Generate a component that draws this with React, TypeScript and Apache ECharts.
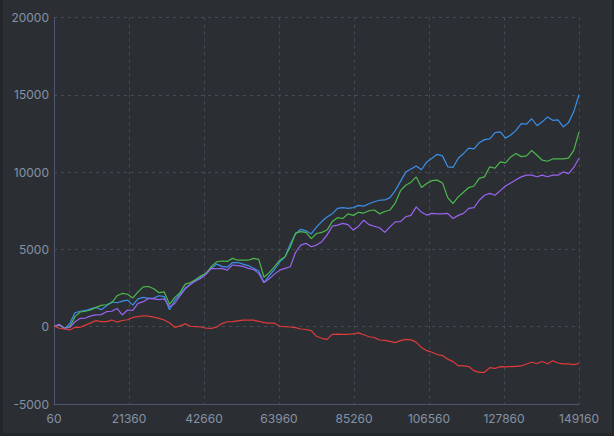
import React, { useEffect, useRef } from "react";
import * as echarts from "echarts";

// sample positions: first trade index and step between samples
const X_START = 60;
const X_STEP = 1491;
const xTickLabels = [60, 21360, 42660, 63960, 85260, 106560, 127860, 149160];
const yTicks = [-5000, 0, 5000, 10000, 15000, 20000];

const blue = [
  0, 150, -150, 200, 900, 1000, 1050, 1150, 1250, 1100,
  1350, 1600, 1550, 1650, 1720, 1400, 1800, 1900, 1830, 1850,
  2000, 1950, 1100, 1700, 2100, 2500, 2750, 3000, 3200, 3500,
  3800, 4050, 3900, 3850, 4150, 4150, 4050, 3950, 3780, 3600,
  2850, 3300, 3700, 4200, 4500, 5350, 6000, 6300, 6200, 6000,
  6450, 6800, 7100, 7300, 7650, 7700, 7650, 7700, 7850, 7800,
  7950, 8080, 8180, 8200, 8350, 8800, 9400, 10000, 10200, 10400,
  10150, 10660, 10900, 11150, 11050, 10340, 10300, 10900, 11200, 11550,
  11500, 11900, 12100, 12150, 12550, 12600, 12200, 12400, 12700, 13140,
  13100, 13450, 13000, 13250, 13570, 13350, 13380, 12920, 13200, 13900,
  15000,
];

const green = [
  0, 100, -100, 0, 650, 950, 1000, 1080, 1250, 1380,
  1420, 1550, 2000, 2150, 2100, 1850, 2250, 2580, 2600, 2450,
  2200, 2250, 1450, 1900, 2200, 2750, 2850, 3050, 3300, 3450,
  3900, 4200, 4250, 4220, 4420, 4300, 4310, 4300, 4420, 4350,
  3200, 3500, 3880, 4300, 4530, 5150, 6050, 6150, 6100, 5700,
  6030, 6100, 6250, 6800, 7050, 7000, 7300, 7200, 7400, 7350,
  7500, 7550, 7300, 7450, 7550, 8000, 8800, 9150, 9350, 9690,
  9000, 9260, 9450, 9480, 9300, 8350, 7970, 8400, 8700, 9000,
  9100, 9590, 9690, 10340, 10250, 10660, 10600, 10980, 11200, 11000,
  11050, 11400, 11090, 10770, 10700, 10850, 10850, 10850, 10900, 11400,
  12600,
];

const purple = [
  0, 150, -100, -50, 320, 540, 560, 700, 760, 780,
  970, 1000, 1180, 760, 1080, 1050, 1510, 1620, 1830, 1800,
  1750, 1800, 1290, 1500, 2000, 2450, 2750, 2950, 3130, 3400,
  3770, 3750, 3770, 3660, 3990, 3950, 3900, 3770, 3700, 3450,
  2850, 3100, 3400, 3660, 3770, 3880, 4800, 5280, 5390, 5170,
  5280, 5500, 5920, 6500, 6570, 6680, 6600, 6250, 6500, 6890,
  6600, 6500, 6400, 6100, 6460, 6780, 6800, 7110, 7200, 7750,
  7400, 7220, 7330, 7300, 7300, 7330, 7000, 7200, 7330, 7650,
  7700, 8180, 8500, 8620, 8500, 8800, 9100, 9300, 9500, 9690,
  9800, 9800, 9700, 9800, 9700, 9800, 9800, 10010, 9900, 10300,
  10900,
];

const red = [
  50, -100, -150, -210, -40, -40, 100, 250, 390, 330,
  330, 430, 300, 400, 450, 600, 650, 710, 680, 620,
  540, 430, 260, -40, 50, 180, 30, 10, -20, -100,
  -110, -20, 200, 320, 330, 380, 420, 430, 420, 350,
  260, 230, 230, 30, 0, -20, -60, -150, -180, -250,
  -620, -750, -820, -500, -480, -500, -490, -470, -400, -520,
  -650, -700, -860, -880, -950, -1030, -900, -820, -850, -1000,
  -1350, -1550, -1650, -1800, -1870, -2100, -2260, -2520, -2540, -2580,
  -2840, -2950, -2950, -2650, -2700, -2580, -2600, -2580, -2560, -2540,
  -2410, -2300, -2380, -2250, -2400, -2200, -2350, -2400, -2400, -2450,
  -2380,
];

const seriesDefs = [
  { name: "A", values: blue, color: "#3b8fe8" },
  { name: "B", values: green, color: "#4cb84e" },
  { name: "C", values: purple, color: "#9b63f2" },
  { name: "D", values: red, color: "#e03a3a" },
];

export default function App() {
  const ref = useRef<HTMLDivElement>(null);
  useEffect(() => {
    if (!ref.current) return;
    const chart = echarts.init(ref.current, null, { renderer: "svg" });
    const xMin = xTickLabels[0];
    const xMax = xTickLabels[xTickLabels.length - 1];
    const interval = xTickLabels[1] - xTickLabels[0];
    chart.setOption({
      animation: false,
      backgroundColor: "#2b2f33",
      grid: { left: 51, right: 33, top: 17.5, bottom: 29 },
      xAxis: {
        type: "value",
        min: 0,
        max: xMax - xMin,
        interval,
        axisLine: { show: true, onZero: false, lineStyle: { color: "#4e5672", width: 1 } },
        axisTick: { show: false },
        axisLabel: {
          color: "#8592a6",
          fontFamily: "Inter",
          fontSize: 12,
          margin: 8,
          formatter: (v: number) => String(v + xMin),
        },
        splitLine: {
          show: true,
          lineStyle: { color: "#464b53", type: [3, 4], width: 1 },
        },
      },
      yAxis: {
        type: "value",
        min: yTicks[0],
        max: yTicks[yTicks.length - 1],
        interval: yTicks[1] - yTicks[0],
        axisLine: { show: true, lineStyle: { color: "#4e5672", width: 1 } },
        axisTick: { show: false },
        axisLabel: {
          color: "#8592a6",
          fontFamily: "Inter",
          fontSize: 12,
          margin: 5,
          formatter: (v: number) => String(v),
        },
        splitLine: {
          show: true,
          lineStyle: { color: "#464b53", type: [3, 4], width: 1 },
        },
      },
      series: seriesDefs.map((s) => ({
        name: s.name,
        type: "line",
        showSymbol: false,
        symbol: "none",
        data: s.values.map((v, i) => [i * X_STEP, v]),
        lineStyle: { color: s.color, width: 1.2 },
        itemStyle: { color: s.color },
      })),
    });
    return () => chart.dispose();
  }, []);
  return (
    <div
      style={{
        position: "fixed",
        left: 0,
        top: 0,
        width: 614,
        height: 436,
        background: "#23262a",
      }}
    >
      <div
        ref={ref}
        style={{ position: "absolute", left: 3, top: 0, width: 609, height: 433 }}
      />
    </div>
  );
}
